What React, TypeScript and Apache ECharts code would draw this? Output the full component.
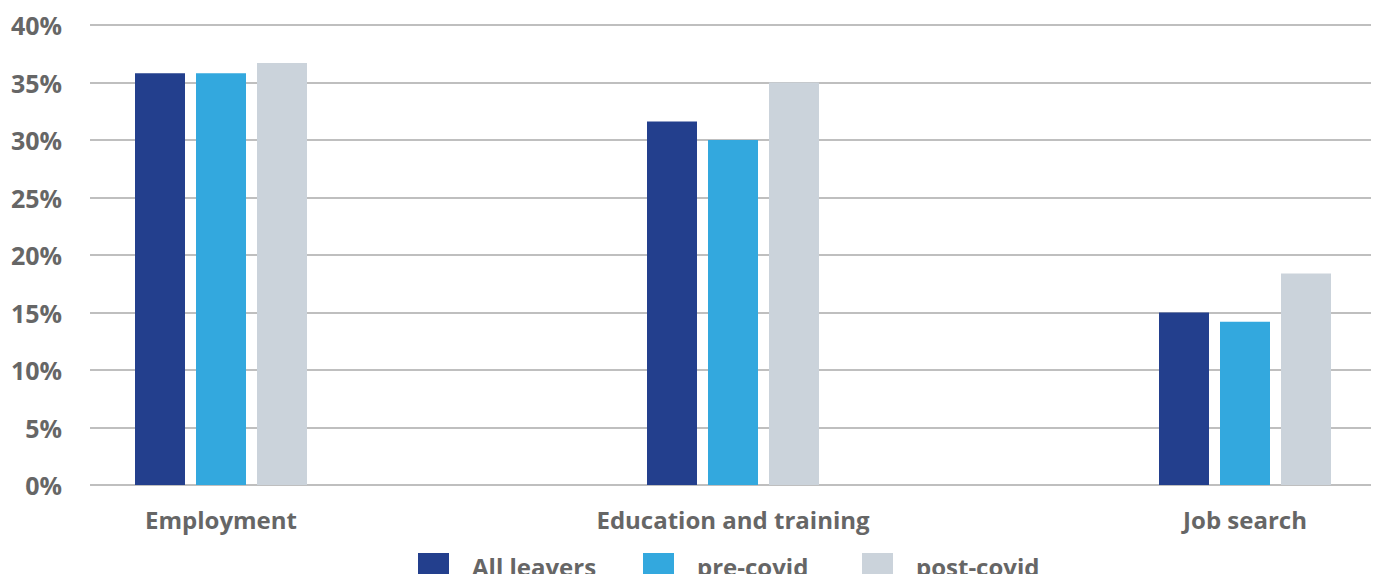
import React, { useEffect, useRef } from "react";
import * as echarts from "echarts";

const categories = ["Employment", "Education and training", "Job search"];
const seriesNames = ["All leavers", "pre-covid", "post-covid"];
const allLeavers = [35.8, 31.6, 15.0];
const preCovid = [35.8, 30.0, 14.2];
const postCovid = [36.7, 35.0, 18.4];
const colors = ["#233F8D", "#33A8DE", "#CBD3DB"];
const yTicks = { min: 0, max: 40, interval: 5 };
const legendLefts = [418, 643, 862];

export default function App() {
  const ref = useRef<HTMLDivElement>(null);
  useEffect(() => {
    if (!ref.current) return;
    const chart = echarts.init(ref.current, null, { renderer: "svg" });
    const font = "'Open Sans', sans-serif";
    const values = [allLeavers, preCovid, postCovid];
    chart.setOption({
      animation: false,
      textStyle: { fontFamily: font },
      grid: [
        { left: 90, right: 6, top: 25, bottom: 97 },
        { left: 221, right: 134, top: 25, bottom: 97 },
      ],
      legend: seriesNames.map((name, i) => ({
        left: legendLefts[i],
        top: 553,
        padding: 0,
        itemWidth: 31,
        itemHeight: 27,
        icon: "rect",
        data: [name],
        textStyle: {
          fontFamily: font,
          fontSize: 24,
          fontWeight: "bold",
          color: "#666666",
          padding: [0, 0, 0, 18],
        },
      })),
      xAxis: [
        { type: "category", gridIndex: 0, show: false, data: categories },
        {
          type: "category",
          gridIndex: 1,
          boundaryGap: false,
          data: categories,
          axisLine: { show: false },
          axisTick: { show: false },
          axisLabel: {
            fontFamily: font,
            fontSize: 24,
            fontWeight: "bold",
            color: "#666666",
            margin: 22,
          },
        },
      ],
      yAxis: [
        {
          type: "value",
          gridIndex: 0,
          min: yTicks.min,
          max: yTicks.max,
          interval: yTicks.interval,
          axisLine: { show: false },
          axisTick: { show: false },
          axisLabel: {
            formatter: "{value}%",
            fontFamily: font,
            fontSize: 25,
            fontWeight: "bold",
            color: "#666666",
            margin: 28,
          },
          splitLine: { lineStyle: { color: "#bfbfbf", width: 2 } },
        },
        {
          type: "value",
          gridIndex: 1,
          min: yTicks.min,
          max: yTicks.max,
          interval: yTicks.interval,
          show: false,
          splitLine: { show: false },
        },
      ],
      series: seriesNames.map((name, i) => ({
        name,
        type: "bar",
        xAxisIndex: 1,
        yAxisIndex: 1,
        clip: false,
        barWidth: 50,
        barGap: "22%",
        itemStyle: { color: colors[i] },
        data: values[i],
      })),
    });
    return () => chart.dispose();
  }, []);
  return <div ref={ref} style={{ width: 1379, height: 582, margin: -8 }} />;
}
